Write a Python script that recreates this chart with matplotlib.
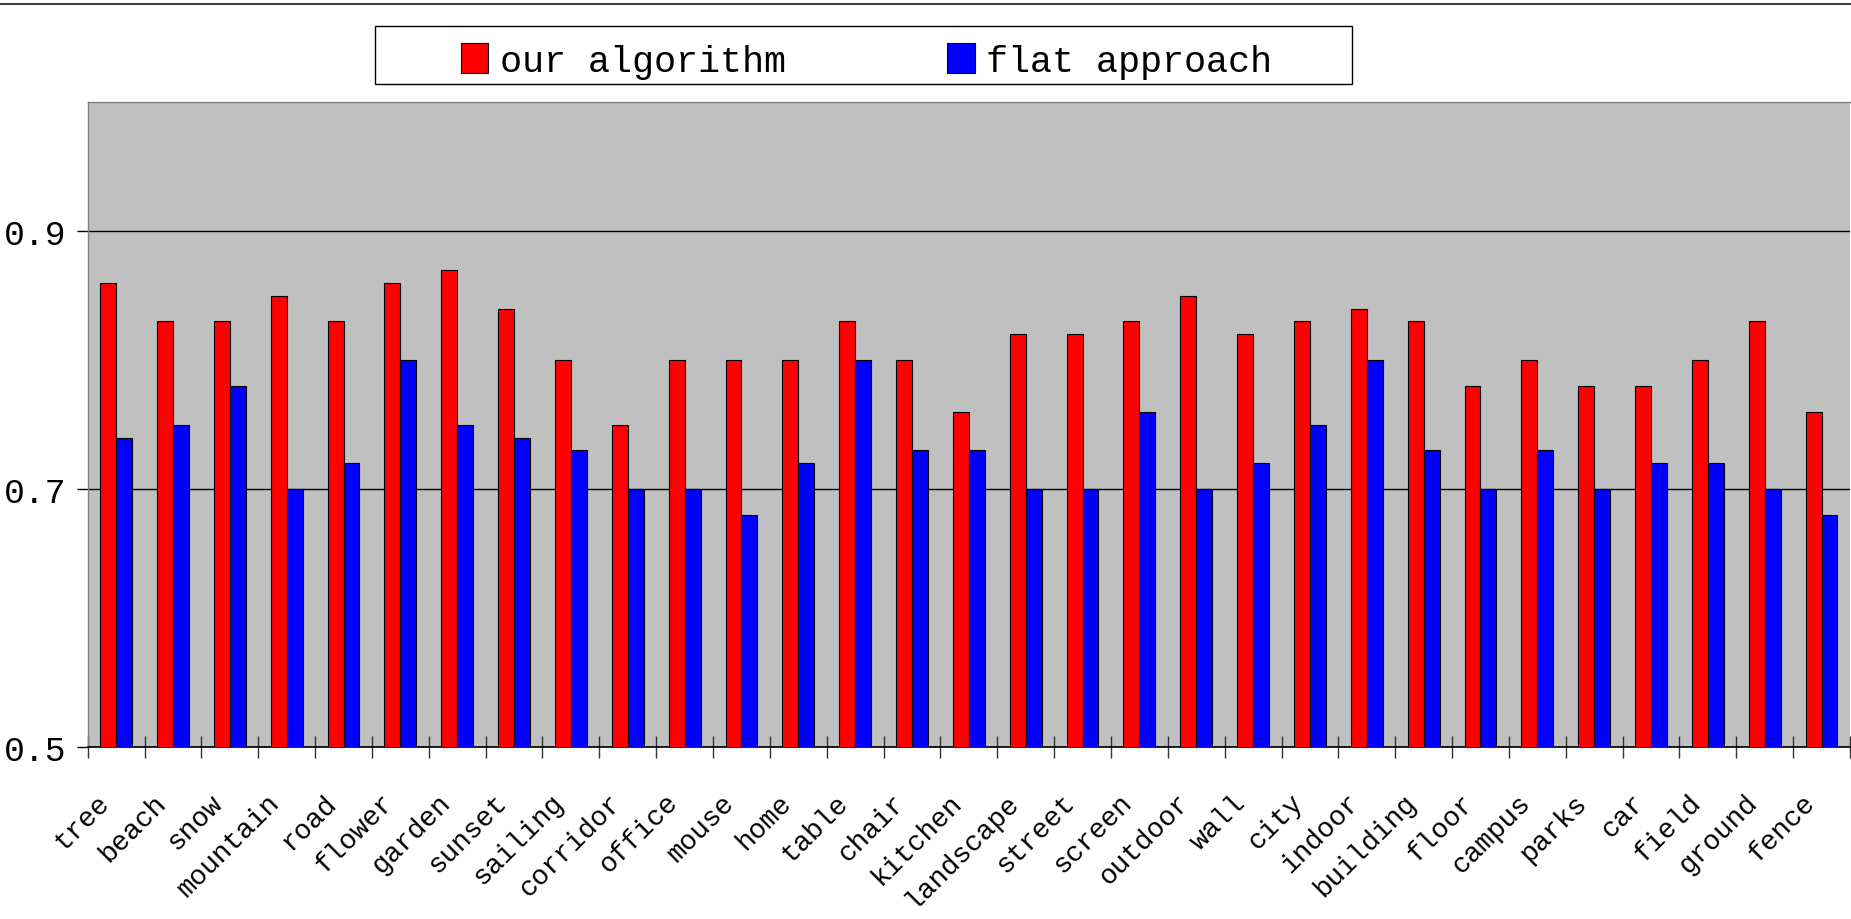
import matplotlib
matplotlib.use("Agg")
import matplotlib.pyplot as plt
import numpy as np
from matplotlib.patches import Rectangle, Patch
from matplotlib.lines import Line2D
from matplotlib.transforms import ScaledTranslation

# ---- data ----
categories = ["tree", "beach", "snow", "mountain", "road", "flower", "garden",
              "sunset", "sailing", "corridor", "office", "mouse", "home", "table",
              "chair", "kitchen", "landscape", "street", "screen", "outdoor", "wall",
              "city", "indoor", "building", "floor", "campus", "parks", "car",
              "field", "ground", "fence"]
our_algorithm = [0.86, 0.83, 0.83, 0.85, 0.83, 0.86, 0.87, 0.84, 0.80, 0.75, 0.80,
                 0.80, 0.80, 0.83, 0.80, 0.76, 0.82, 0.82, 0.83, 0.85, 0.82, 0.83,
                 0.84, 0.83, 0.78, 0.80, 0.78, 0.78, 0.80, 0.83, 0.76]
flat_approach = [0.74, 0.75, 0.78, 0.70, 0.72, 0.80, 0.75, 0.74, 0.73, 0.70, 0.70,
                 0.68, 0.72, 0.80, 0.73, 0.73, 0.70, 0.70, 0.76, 0.70, 0.72, 0.75,
                 0.80, 0.73, 0.70, 0.73, 0.70, 0.72, 0.72, 0.70, 0.68]
series_names = ["our algorithm", "flat approach"]
y_ticks = [0.5, 0.7, 0.9]

FONT = "Liberation Mono"
W, H = 1851, 920
fig = plt.figure(figsize=(W / 100, H / 100), dpi=100)
fig.patch.set_facecolor("white")

# plot area in pixel coordinates
left_px, right_px, top_px, bottom_px = 87.7, 1850.0, 103.3, 748.0
ax = fig.add_axes([left_px / W, 1 - bottom_px / H,
                   (right_px - left_px) / W, (bottom_px - top_px) / H])
ax.set_facecolor("#C0C0C0")

x = np.arange(len(categories))
bw = 0.28
ax.bar(x - bw / 2, our_algorithm, width=bw, color="#FF0000",
       edgecolor="black", linewidth=0.8, zorder=3)
ax.bar(x + bw / 2, flat_approach, width=bw, color="#0000FF",
       edgecolor="black", linewidth=0.8, zorder=3)

ax.set_xlim(-0.5, len(categories) - 0.5)
ax.set_ylim(0.5, 1.0)

# y axis
ax.set_yticks(y_ticks)
ax.set_yticklabels([f"{v:.1f}" for v in y_ticks], fontfamily=FONT, fontsize=25)
ax.yaxis.grid(True, color="black", linewidth=1.0)
ax.set_axisbelow(True)
ax.tick_params(axis="y", direction="out", length=8, width=1, color="black", pad=7)

# x axis: labels at centers, tick marks at category boundaries
ax.set_xticks(x)
ax.set_xticklabels(categories, fontfamily=FONT, fontsize=20, rotation=45,
                   ha="right", va="top", rotation_mode="anchor")
ax.tick_params(axis="x", which="major", length=0, pad=30)
ax.set_xticks(np.arange(len(categories) + 1) - 0.5, minor=True)
ax.tick_params(axis="x", which="minor", direction="inout", length=16,
               width=1, color="#333333")
shift = ScaledTranslation(-0.2, 0, fig.dpi_scale_trans)
for lab in ax.get_xticklabels():
    lab.set_transform(lab.get_transform() + shift)

for side in ("top", "left"):
    ax.spines[side].set_color("#808080")
    ax.spines[side].set_linewidth(1.0)
ax.spines["right"].set_visible(False)
ax.spines["bottom"].set_color("black")
ax.spines["bottom"].set_linewidth(1.2)

# line across the top of the page
fig.add_artist(Line2D([0, 1], [1 - 4.5 / H, 1 - 4.5 / H], transform=fig.transFigure,
                      color="#404040", linewidth=1.5))

# legend frame
lx0, lx1, ly0, ly1 = 375, 1352, 27, 85
fig.add_artist(Rectangle((lx0 / W, 1 - ly1 / H), (lx1 - lx0) / W, (ly1 - ly0) / H,
                         transform=fig.transFigure, facecolor="white",
                         edgecolor="black", linewidth=1.0))
handles = [Patch(facecolor="#FF0000", edgecolor="black", linewidth=0.8),
           Patch(facecolor="#0000FF", edgecolor="black", linewidth=0.8)]
fig.legend(handles, series_names, loc="center", bbox_to_anchor=(866.5 / W, 1 - 62 / H),
           ncol=2, frameon=False, prop={"family": FONT, "size": 26.5},
           handlelength=0.76, handleheight=0.87, handletextpad=0.3,
           columnspacing=4.4, borderpad=0)

fig.savefig("out.png", dpi=100, facecolor="white")
